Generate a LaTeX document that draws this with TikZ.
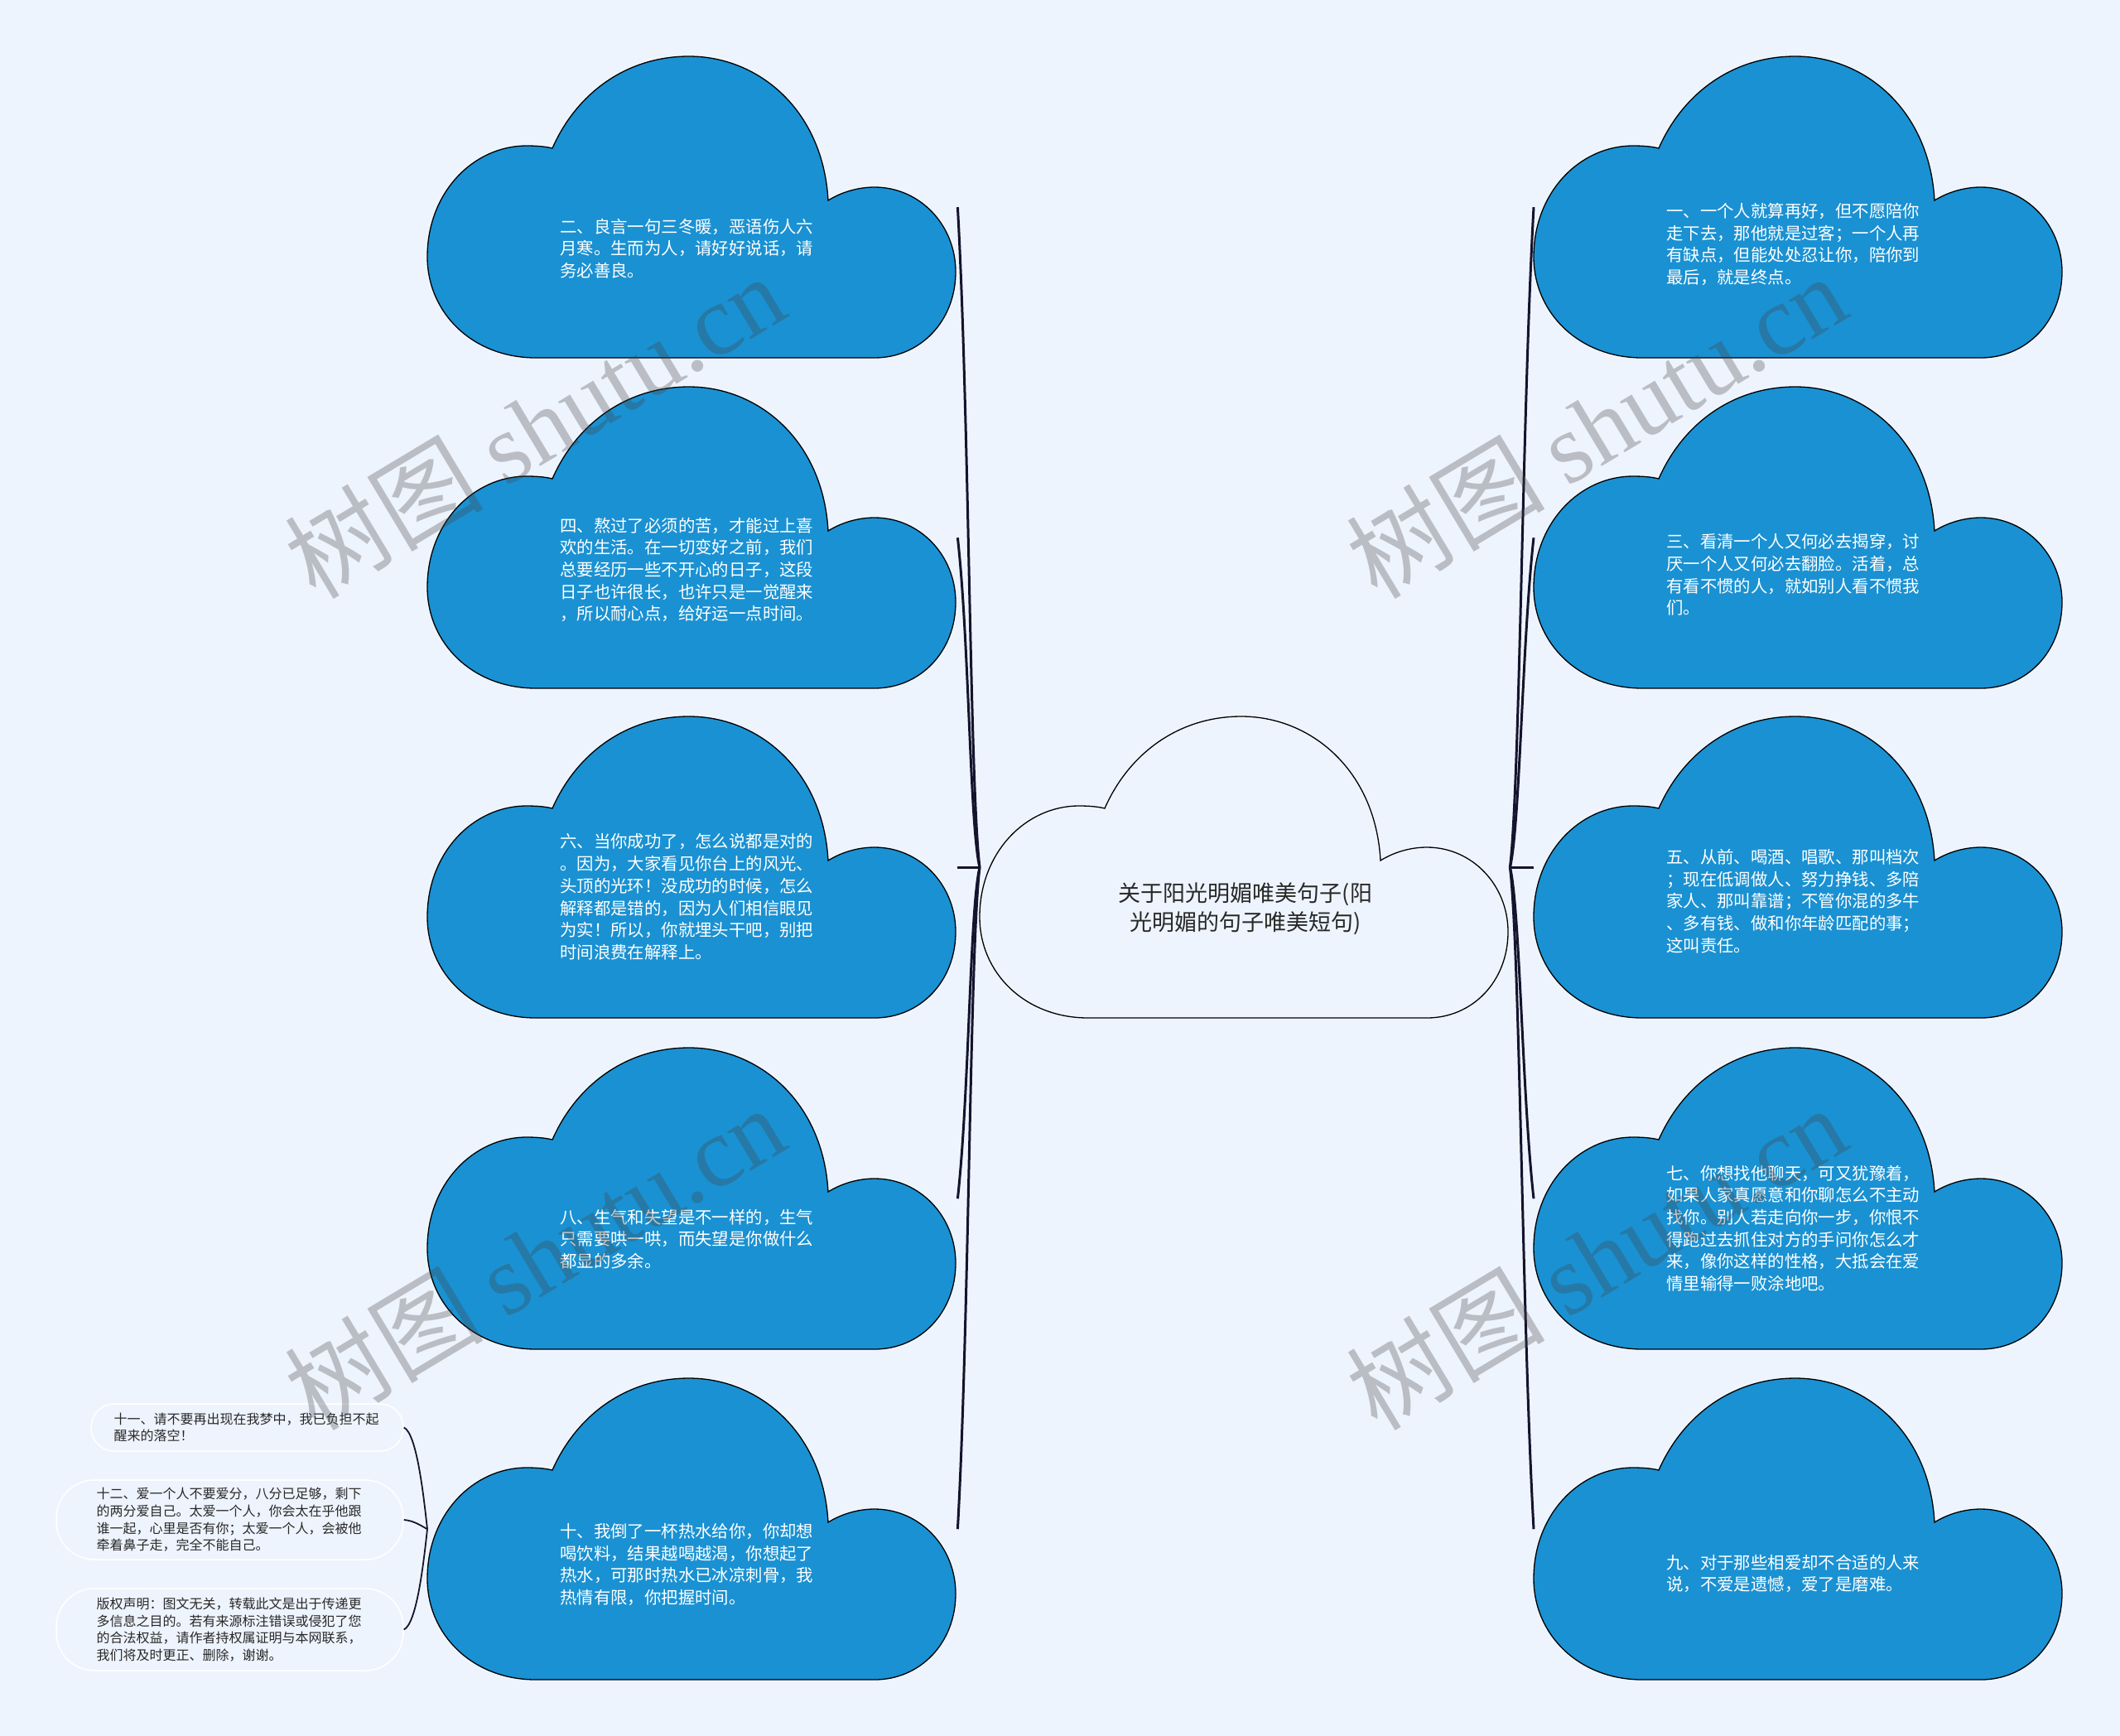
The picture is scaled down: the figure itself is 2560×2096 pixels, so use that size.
\documentclass[tikz,border=0pt]{standalone}
\usepackage{fontspec}
\setmainfont{Noto Sans CJK SC}
\newfontfamily\wmserif{Liberation Serif}
\usepackage{tikz}

\definecolor{pagebg}{RGB}{238,244,253}
\definecolor{cloudblue}{RGB}{26,145,210}
\definecolor{linkcol}{RGB}{20,20,45}
\definecolor{darktext}{RGB}{40,40,40}

\newcommand\cloudoutline{(131,364) .. controls (55,364) and (0,310) .. (0,242)
  .. controls (0,165) and (55,108) .. (120,108) .. controls (133,108) and (143,109) .. (151,111)
  .. controls (180,45) and (240,0) .. (316,0) .. controls (400,0) and (478,65) .. (484,174)
  .. controls (500,164) and (520,158) .. (540,158) .. controls (595,158) and (638,204) .. (638,260)
  .. controls (638,320) and (595,364) .. (540,364) -- cycle}

\tikzset{pics/cloud/.style={code={\path[pic actions] \cloudoutline;}}}

\begin{document}
\begin{tikzpicture}[x=1pt, y=-1pt,
    link/.style={draw=linkcol, line width=3pt},
    notelink/.style={draw=linkcol, line width=1.8pt},
    bluefill/.style={fill=cloudblue, draw=black, line width=1.3pt},
    mainfill/.style={fill=pagebg, draw=black, line width=1.3pt},
    cloudbox/.style={anchor=north west, minimum width=640pt, minimum height=364pt, inner sep=0pt},
    cloudtext/.style={anchor=west, text width=310pt, align=left, inner sep=0pt, text=white,
      font=\fontsize{20.4}{26.7}\selectfont},
    maintext/.style={align=center, inner sep=0pt, text=darktext, font=\fontsize{27}{35}\selectfont},
    note/.style={draw=white, line width=1.5pt, fill=pagebg, rounded corners=28pt, text width=322pt,
      align=left, inner sep=0pt, text=darktext, font=\fontsize{16}{20.6}\selectfont},
    wmark/.style={rotate=31, text=black!74, text opacity=0.3, font=\fontsize{120}{120}\selectfont}
]
\useasboundingbox (0,0) rectangle (2560,2096);
\fill[pagebg] (0,0) rectangle (2560,2096);

\pic[mainfill] at (1183,865) {cloud};
\node[cloudbox] (main) at (1183,865) {};
\node[maintext] (maint) at (1504,1097) {关于阳光明媚唯美句子(阳\\光明媚的句子唯美短句)};

\pic[bluefill] at (516,68) {cloud};
\node[cloudbox] (q2) at (516,68) {};
\node[cloudtext] (q2t) at ([shift={(160,232)}]q2.north west)
  {二、良言一句三冬暖，恶语伤人六\\月寒。生而为人，请好好说话，请\\务必善良。};
\pic[bluefill] at (516,467) {cloud};
\node[cloudbox] (q4) at (516,467) {};
\node[cloudtext] (q4t) at ([shift={(160,221)}]q4.north west)
  {四、熬过了必须的苦，才能过上喜\\欢的生活。在一切变好之前，我们\\总要经历一些不开心的日子，这段\\日子也许很长，也许只是一觉醒来\\，所以耐心点，给好运一点时间。};
\pic[bluefill] at (516,865) {cloud};
\node[cloudbox] (q6) at (516,865) {};
\node[cloudtext] (q6t) at ([shift={(160,218)}]q6.north west)
  {六、当你成功了，怎么说都是对的\\。因为，大家看见你台上的风光、\\头顶的光环！没成功的时候，怎么\\解释都是错的，因为人们相信眼见\\为实！所以，你就埋头干吧，别把\\时间浪费在解释上。};
\pic[bluefill] at (516,1265) {cloud};
\node[cloudbox] (q8) at (516,1265) {};
\node[cloudtext] (q8t) at ([shift={(160,231)}]q8.north west)
  {八、生气和失望是不一样的，生气\\只需要哄一哄，而失望是你做什么\\都显的多余。};
\pic[bluefill] at (516,1664) {cloud};
\node[cloudbox] (q10) at (516,1664) {};
\node[cloudtext] (q10t) at ([shift={(160,225)}]q10.north west)
  {十、我倒了一杯热水给你，你却想\\喝饮料，结果越喝越渴，你想起了\\热水，可那时热水已冰凉刺骨，我\\热情有限，你把握时间。};

\pic[bluefill] at (1852,68) {cloud};
\node[cloudbox] (q1) at (1852,68) {};
\node[cloudtext] (q1t) at ([shift={(160,227)}]q1.north west)
  {一、一个人就算再好，但不愿陪你\\走下去，那他就是过客；一个人再\\有缺点，但能处处忍让你，陪你到\\最后，就是终点。};
\pic[bluefill] at (1852,467) {cloud};
\node[cloudbox] (q3) at (1852,467) {};
\node[cloudtext] (q3t) at ([shift={(160,227)}]q3.north west)
  {三、看清一个人又何必去揭穿，讨\\厌一个人又何必去翻脸。活着，总\\有看不惯的人，就如别人看不惯我\\们。};
\pic[bluefill] at (1852,865) {cloud};
\node[cloudbox] (q5) at (1852,865) {};
\node[cloudtext] (q5t) at ([shift={(160,223)}]q5.north west)
  {五、从前、喝酒、唱歌、那叫档次\\；现在低调做人、努力挣钱、多陪\\家人、那叫靠谱；不管你混的多牛\\、多有钱、做和你年龄匹配的事；\\这叫责任。};
\pic[bluefill] at (1852,1265) {cloud};
\node[cloudbox] (q7) at (1852,1265) {};
\node[cloudtext] (q7t) at ([shift={(160,218)}]q7.north west)
  {七、你想找他聊天，可又犹豫着，\\如果人家真愿意和你聊怎么不主动\\找你。别人若走向你一步，你恨不\\得跑过去抓住对方的手问你怎么才\\来，像你这样的性格，大抵会在爱\\情里输得一败涂地吧。};
\pic[bluefill] at (1852,1664) {cloud};
\node[cloudbox] (q9) at (1852,1664) {};
\node[cloudtext] (q9t) at ([shift={(160,236)}]q9.north west)
  {九、对于那些相爱却不合适的人来\\说，不爱是遗憾，爱了是磨难。};

\node[note, minimum width=377pt, minimum height=57pt] (n11) at (298.5,1723.5)
  {十一、请不要再出现在我梦中，我已负担不起\\醒来的落空！};
\node[note, rounded corners=46pt, minimum width=419pt, minimum height=96pt] (n12) at (277.5,1835)
  {十二、爱一个人不要爱分，八分已足够，剩下\\的两分爱自己。太爱一个人，你会太在乎他跟\\谁一起，心里是否有你；太爱一个人，会被他\\牵着鼻子走，完全不能自己。};
\node[note, rounded corners=46pt, minimum width=419pt, minimum height=99pt] (n13) at (277.5,1967.5)
  {版权声明：图文无关，转载此文是出于传递更\\多信息之目的。若有来源标注错误或侵犯了您\\的合法权益，请作者持权属证明与本网联系，\\我们将及时更正、删除，谢谢。};

\draw[link] (q6.east) -- (main.west);
\foreach \c/\d in {q2/250, q4/125, q8/-125, q10/-250}
  \draw[link] (\c.east) .. controls +(14,\d) and +(-12,-0.4*\d) .. (main.west);
\draw[link] (main.east) -- (q5.west);
\foreach \c/\d in {q1/250, q3/125, q7/-125, q9/-250}
  \draw[link] (\c.west) .. controls +(-14,\d) and +(12,-0.4*\d) .. (main.east);

\draw[notelink] (q10.west) .. controls +(-5,-46) and +(15,7) .. (n11.east);
\draw[notelink] (q10.west) .. controls +(-6,-3) and +(13,1) .. (n12.east);
\draw[notelink] (q10.west) .. controls +(-5,46) and +(15,-7) .. (n13.east);

\foreach \x/\y [count=\i] in {645/514, 1927/514, 645/1518, 1927/1518}
  \node[wmark] (wm\i) at (\x,\y) {树图 {\wmserif shutu.cn}};
\end{tikzpicture}
\end{document}
